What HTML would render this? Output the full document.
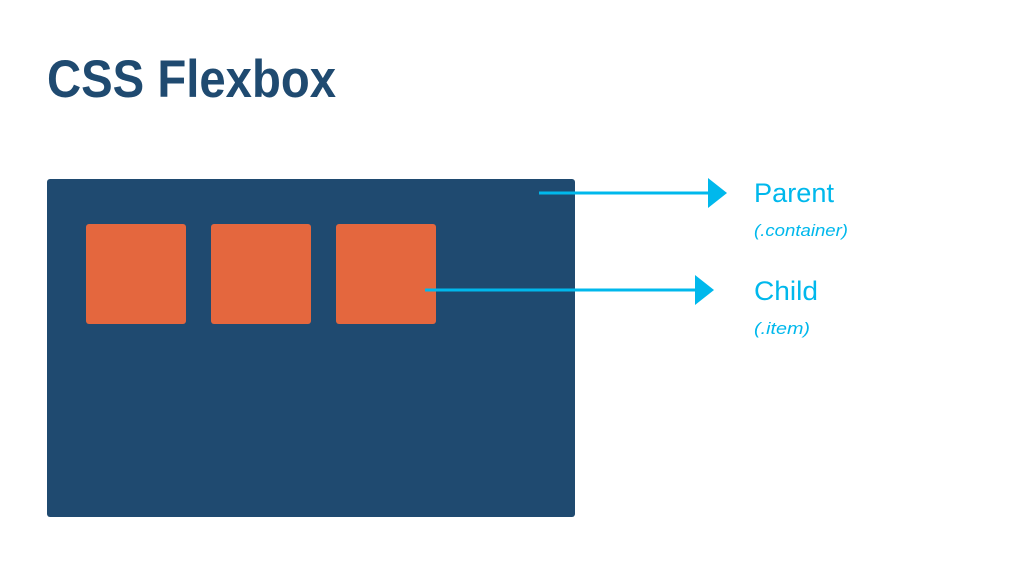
<!DOCTYPE html>
<html><head><meta charset="utf-8"><style>
html,body{margin:0;padding:0;background:#fff;width:1030px;height:579px;overflow:hidden}
</style></head><body>
<svg width="1030" height="579" xmlns="http://www.w3.org/2000/svg">
<text x="47" y="97" font-family="Liberation Sans, sans-serif" font-weight="bold" font-size="53" fill="#1f4a70" textLength="289" lengthAdjust="spacingAndGlyphs">CSS Flexbox</text>
<rect x="47" y="179" width="528" height="338" rx="3" fill="#1f4a70"/>
<rect x="86" y="224" width="100" height="100" rx="3" fill="#e4673e"/>
<rect x="211" y="224" width="100" height="100" rx="3" fill="#e4673e"/>
<rect x="336" y="224" width="100" height="100" rx="3" fill="#e4673e"/>
<line x1="539" y1="193" x2="710" y2="193" stroke="#00b8ec" stroke-width="3"/>
<polygon points="708,178 727,193 708,208" fill="#00b8ec"/>
<line x1="425" y1="290" x2="697" y2="290" stroke="#00b8ec" stroke-width="3"/>
<polygon points="695,275 714,290 695,305" fill="#00b8ec"/>
<g font-family="Liberation Sans, sans-serif" fill="#00b8ec">
<text x="754" y="202" font-size="27" textLength="80" lengthAdjust="spacingAndGlyphs">Parent</text>
<text x="754" y="236" font-size="17" font-style="italic" textLength="94" lengthAdjust="spacingAndGlyphs">(.container)</text>
<text x="754" y="300" font-size="27" textLength="64" lengthAdjust="spacingAndGlyphs">Child</text>
<text x="754" y="334" font-size="17" font-style="italic" textLength="56" lengthAdjust="spacingAndGlyphs">(.item)</text>
</g>
</svg>
</body></html>
